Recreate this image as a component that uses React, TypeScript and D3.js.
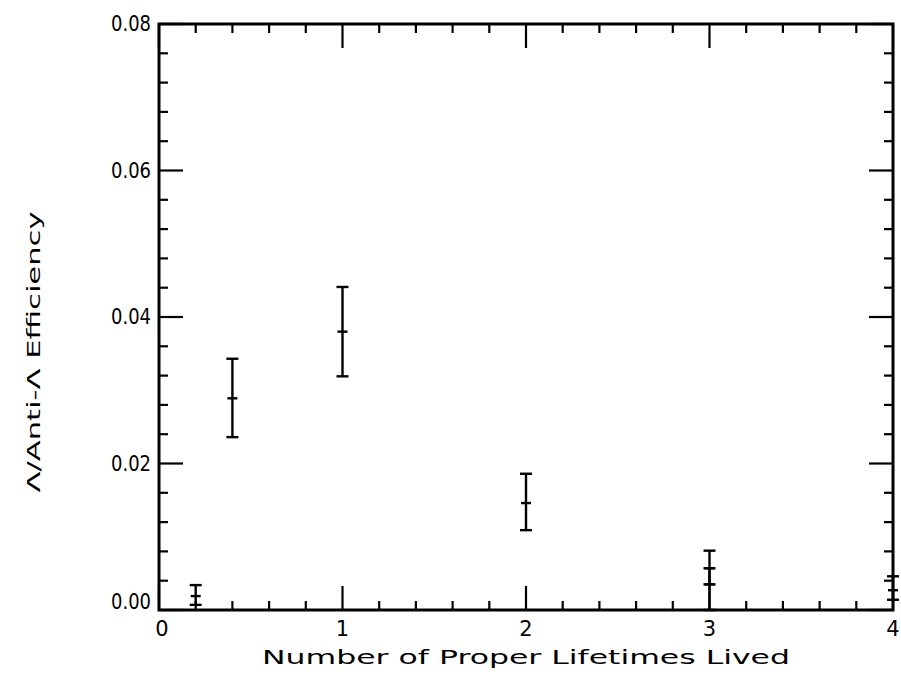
import React from "react";
import * as d3 from "d3";

// Data (x = number of proper lifetimes lived)
const xValues = [0.2, 0.4, 1, 2, 3, 3, 4];
const centerValues = [0.0019, 0.0289, 0.038, 0.0146, 0.0057, 0.0035, 0.0027];
const upperValues = [0.0034, 0.0343, 0.0441, 0.0186, 0.0081, 0.0057, 0.0046];
const lowerValues = [0.0007, 0.0236, 0.0319, 0.0109, 0.0035, 0.0, 0.0014];

const xTickLabels = ["0", "1", "2", "3", "4"];
const yTickLabels = ["0.00", "0.02", "0.04", "0.06", "0.08"];

const xTitle = "Number of Proper Lifetimes Lived";
const yTitle = "Λ/Anti-Λ Efficiency";

const W = 901;
const H = 675;
const left = 159;
const right = 893;
const top = 24;
const bottom = 610;

export default function App() {
  const x = d3.scaleLinear().domain([0, 4]).range([left, right]);
  const y = d3.scaleLinear().domain([0, 0.08]).range([bottom, top]);

  const xMajor = xTickLabels.map(Number);
  const xMinor = d3.range(0, 4.0001, 0.2).filter((v) => Math.abs(v - Math.round(v)) > 1e-6);
  const yMajor = yTickLabels.map(Number);
  const yMinor = d3.range(0, 0.08001, 0.004).filter((v) => Math.abs(v / 0.02 - Math.round(v / 0.02)) > 1e-6);

  const majorLen = 24;
  const minorLen = 9;
  const font = "'DejaVu Sans', sans-serif";
  const stroke = "#000";

  const points = xValues.map((xv, i) => ({
    x: xv,
    c: centerValues[i],
    hi: upperValues[i],
    lo: lowerValues[i],
  }));

  return (
    <svg
      width={W}
      height={H}
      style={{ position: "absolute", left: 0, top: 0, background: "#fff" }}
    >
      <rect x={0} y={0} width={W} height={H} fill="#fff" />
      {/* frame */}
      <rect
        x={left}
        y={top}
        width={right - left}
        height={bottom - top}
        fill="none"
        stroke={stroke}
        strokeWidth={3}
      />
      {/* x ticks bottom and top */}
      {xMajor.map((v) => (
        <g key={"xM" + v}>
          <line x1={x(v)} x2={x(v)} y1={bottom} y2={bottom - majorLen} stroke={stroke} strokeWidth={2.2} />
          <line x1={x(v)} x2={x(v)} y1={top} y2={top + majorLen} stroke={stroke} strokeWidth={2.2} />
        </g>
      ))}
      {xMinor.map((v) => (
        <g key={"xm" + v}>
          <line x1={x(v)} x2={x(v)} y1={bottom} y2={bottom - minorLen} stroke={stroke} strokeWidth={2.2} />
          <line x1={x(v)} x2={x(v)} y1={top} y2={top + minorLen} stroke={stroke} strokeWidth={2.2} />
        </g>
      ))}
      {/* y ticks left and right */}
      {yMajor.map((v) => (
        <g key={"yM" + v}>
          <line x1={left} x2={left + majorLen} y1={y(v)} y2={y(v)} stroke={stroke} strokeWidth={2.2} />
          <line x1={right} x2={right - majorLen} y1={y(v)} y2={y(v)} stroke={stroke} strokeWidth={2.2} />
        </g>
      ))}
      {yMinor.map((v) => (
        <g key={"ym" + v}>
          <line x1={left} x2={left + minorLen} y1={y(v)} y2={y(v)} stroke={stroke} strokeWidth={2.2} />
          <line x1={right} x2={right - minorLen} y1={y(v)} y2={y(v)} stroke={stroke} strokeWidth={2.2} />
        </g>
      ))}
      {/* tick labels */}
      {xTickLabels.map((t, i) => (
        <text
          key={"xl" + t}
          x={x(xMajor[i]) + (i === 0 ? 3 : 0)}
          y={bottom + 26}
          textAnchor="middle"
          fontFamily={font}
          fontSize={21}
          fill={stroke}
        >
          {t}
        </text>
      ))}
      {yTickLabels.map((t, i) => (
        <text
          key={"yl" + t}
          x={left - 8}
          y={y(yMajor[i]) + (i === 0 ? -1 : 7)}
          textAnchor="end"
          fontFamily={font}
          fontSize={21}
          fill={stroke}
          textLength={40}
          lengthAdjust="spacingAndGlyphs"
        >
          {t}
        </text>
      ))}
      {/* axis titles */}
      <text
        x={(262 + 790) / 2}
        y={664}
        textAnchor="middle"
        fontFamily={font}
        fontSize={20}
        fill={stroke}
        textLength={528}
        lengthAdjust="spacingAndGlyphs"
      >
        {xTitle}
      </text>
      <text
        transform={`translate(40, 352) rotate(-90)`}
        textAnchor="middle"
        fontFamily={font}
        fontSize={18}
        fill={stroke}
        textLength={281}
        lengthAdjust="spacingAndGlyphs"
      >
        {yTitle}
      </text>
      {/* error bars */}
      {points.map((p, i) => {
        const px = x(p.x);
        const cap = 6;
        return (
          <g key={"p" + i} stroke={stroke} strokeWidth={2.4}>
            <line x1={px} x2={px} y1={y(p.lo)} y2={y(p.hi)} />
            <line x1={px - cap} x2={px + cap} y1={y(p.hi)} y2={y(p.hi)} />
            <line x1={px - cap} x2={px + cap} y1={y(p.lo)} y2={y(p.lo)} />
            <line x1={px - cap + 1} x2={px + cap - 1} y1={y(p.c)} y2={y(p.c)} />
          </g>
        );
      })}
    </svg>
  );
}
